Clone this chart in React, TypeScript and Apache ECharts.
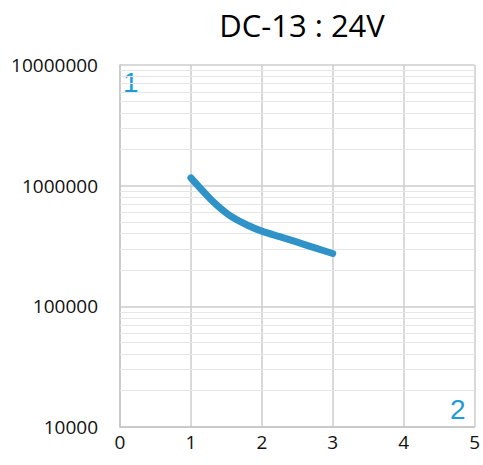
import React, { useEffect, useRef } from "react";
import * as echarts from "echarts";

const titleText = "DC-13 : 24V";
const xValues = [1, 1.3, 1.55, 1.8, 2, 2.25, 2.5, 2.75, 3];
const yValues = [1160000, 750000, 565000, 470000, 420000, 378000, 340000, 305000, 274000];
const xTicks = [0, 1, 2, 3, 4, 5];
const decades = [10000, 100000, 1000000];
const minorMultipliers = [2, 3, 4, 5, 6, 7, 8, 9];
const cornerLabels = ["1", "2"];

export default function App() {
  const ref = useRef<HTMLDivElement>(null);
  useEffect(() => {
    document.body.style.margin = "0";
    const chart = echarts.init(ref.current!, null, { renderer: "svg" });
    const minorValues: number[] = [];
    decades.forEach((d) => minorMultipliers.forEach((m) => minorValues.push(d * m)));
    const font = "'Open Sans', 'Liberation Sans', sans-serif";
    chart.setOption({
      animation: false,
      title: {
        text: titleText,
        left: 297,
        top: 4,
        textAlign: "center",
        textStyle: { fontFamily: font, fontSize: 31, fontWeight: "normal", color: "#000" },
      },
      grid: { left: 120, right: 8, top: 65, bottom: 38 },
      xAxis: {
        type: "value",
        min: 0,
        max: 5,
        interval: 1,
        axisLine: { show: true, lineStyle: { color: "#c4c4c4", width: 1.5 } },
        axisTick: { show: false },
        axisLabel: {
          fontFamily: font,
          fontSize: 19,
          color: "#111",
          margin: 5,
          formatter: (v: number) => (xTicks.includes(v) ? String(v) : ""),
        },
        splitLine: { show: true, lineStyle: { color: "#cccccc", width: 1.5 } },
      },
      yAxis: {
        type: "log",
        logBase: 10,
        min: 10000,
        max: 10000000,
        axisLine: { show: true, lineStyle: { color: "#c4c4c4", width: 1.5 } },
        axisTick: { show: false },
        axisLabel: { fontFamily: font, fontSize: 19, color: "#111", margin: 22, formatter: (v: number) => String(v) },
        splitLine: { show: true, lineStyle: { color: "#cccccc", width: 1.5 } },
      },
      series: [
        {
          type: "line",
          data: xValues.map((x, i) => [x, yValues[i]]),
          smooth: 0.25,
          showSymbol: false,
          lineStyle: { color: "#2f93c8", width: 7, cap: "round", join: "round" },
          z: 5,
          markLine: {
            silent: true,
            symbol: "none",
            label: { show: false },
            lineStyle: { color: "#e6e6e6", width: 1.2, type: "solid" },
            data: minorValues.map((v) => ({ yAxis: v })),
            z: 1,
          },
        },
      ],
      graphic: [
        {
          type: "text",
          left: 123,
          top: 68,
          style: { text: cornerLabels[0], fontFamily: "'Liberation Sans', Arial, sans-serif", fontSize: 28, fill: "#1b9ddb" },
        },
        {
          type: "text",
          left: 450,
          top: 395,
          style: { text: cornerLabels[1], fontFamily: "'Liberation Sans', Arial, sans-serif", fontSize: 28, fill: "#1b9ddb" },
        },
      ],
    });
    return () => chart.dispose();
  }, []);
  return <div ref={ref} style={{ width: 483, height: 465 }} />;
}
